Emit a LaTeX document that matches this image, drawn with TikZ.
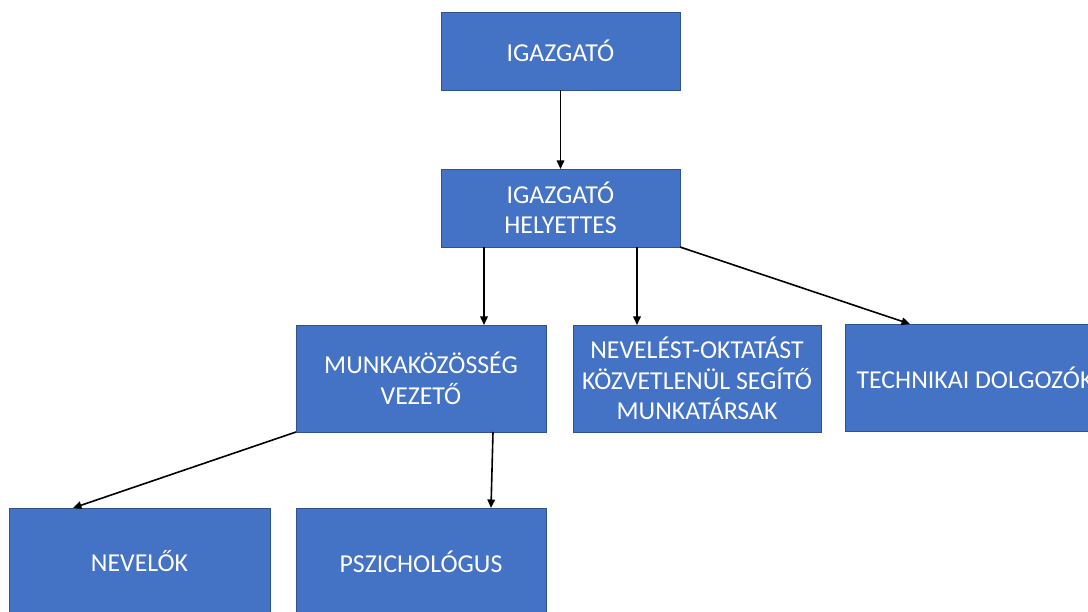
\documentclass[tikz,border=0pt]{standalone}
\usepackage{fontspec}
\setmainfont{Carlito}
\usetikzlibrary{arrows.meta}
\definecolor{boxfill}{HTML}{4472C4}
\definecolor{boxline}{HTML}{2F528F}

\begin{document}
\begin{tikzpicture}[x=1pt,y=-1pt,thick,
	unit/.style={rectangle,draw=boxline,fill=boxfill,line width=0.8pt,text=white,align=center,
		inner sep=0pt,outer sep=0pt,font=\fontsize{25.8}{30.5}\selectfont},
	link/.style={-{Triangle[width=7.5pt,length=8.5pt]},line width=1.6pt}]
	\useasboundingbox (0,0) rectangle (1088,612);
	\clip (0,0) rectangle (1088,612);
	\node (igazgato) at (560.5,51) [unit,minimum width=239pt,minimum height=78pt] {IGAZGATÓ};
	\node (helyettes) at (560.5,208) [unit,minimum width=239pt,minimum height=78pt] {IGAZGATÓ\\HELYETTES};
	\node (munka) at (421,378.5) [unit,minimum width=250pt,minimum height=107pt] {MUNKAKÖZÖSSÉG\\VEZETŐ};
	\node (segito) at (697,378.5) [unit,minimum width=248pt,minimum height=107pt] {NEVELÉST-OKTATÁST\\KÖZVETLENÜL SEGÍTŐ\\MUNKATÁRSAK};
	\node (technikai) at (975,377.5) [unit,minimum width=260pt,minimum height=107pt] {TECHNIKAI DOLGOZÓK};
	\node (nevelok) at (139.5,561.5) [unit,minimum width=261pt,minimum height=107pt] {NEVELŐK};
	\node (pszicho) at (421,561.5) [unit,minimum width=250pt,minimum height=107pt] {PSZICHOLÓGUS};
	\draw [link] (igazgato.south) -- (helyettes.north);
	\draw [link] ([xshift=-76.5pt]helyettes.south) -- ([xshift=63pt]munka.north);
	\draw [link] ([xshift=76.5pt]helyettes.south) -- ([xshift=-60pt]segito.north);
	\draw [link] (helyettes.south east) -- ([xshift=-65pt]technikai.north);
	\draw [link] (munka.south west) -- ([xshift=-66.5pt]nevelok.north);
	\draw [link] ([xshift=72pt]munka.south) -- ([xshift=70pt]pszicho.north);
\end{tikzpicture}
\end{document}
